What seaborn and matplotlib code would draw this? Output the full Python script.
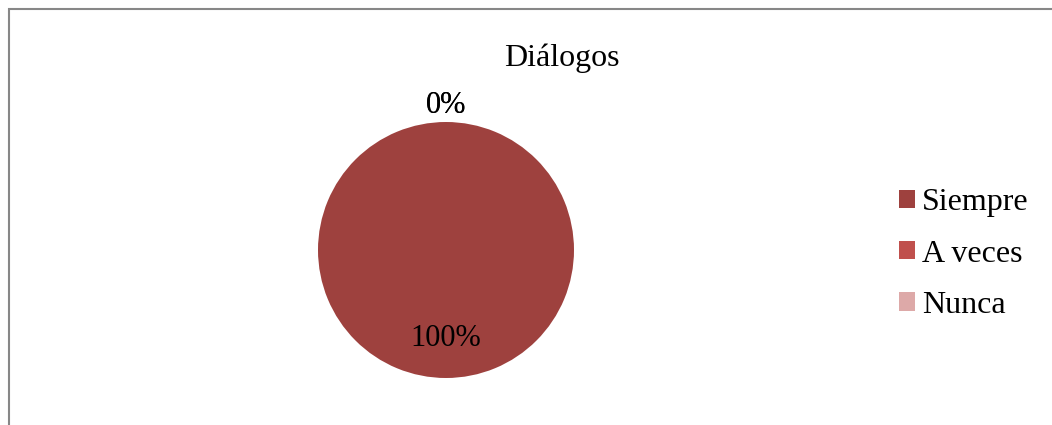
import matplotlib
matplotlib.use("Agg")
import numpy as np
import seaborn as sns
import matplotlib.pyplot as plt
from matplotlib.patches import Rectangle, Patch

# Datos del gráfico
categorias = ["Siempre", "A veces", "Nunca"]
valores = [100, 0, 0]
colores = ["#9E413E", "#C0504D", "#DDA9A8"]
titulo = "Diálogos"

sns.set_style("white")
plt.rcParams["font.family"] = ["Liberation Serif", "DejaVu Serif"]
plt.rcParams["text.color"] = "black"

W, H = 1052, 425
fig = plt.figure(figsize=(W / 100, H / 100), dpi=100)

# marco gris del gráfico
fig.patches.append(Rectangle((9 / W, -0.1), 1.2, (H - 9) / H + 0.1,
                             transform=fig.transFigure, fill=False,
                             edgecolor="#878787", linewidth=1.5))

cx, cy, r = 446, 250, 128
ax = fig.add_axes([(cx - r) / W, (H - cy - r) / H, 2 * r / W, 2 * r / H])
wedges, _ = ax.pie(valores, colors=colores, startangle=90, counterclock=False,
                   wedgeprops=dict(linewidth=0))
ax.set_xlim(-1, 1)
ax.set_ylim(-1, 1)
ax.set_aspect("auto")
ax.axis("off")

# etiquetas de porcentaje
total = sum(valores)
for w, v in zip(wedges, valores):
    ang = np.deg2rad((w.theta1 + w.theta2) / 2)
    d = 0.69 if v > 0 else 1.13
    ax.text(d * np.cos(ang), d * np.sin(ang), f"{v / total * 100:.0f}%",
            ha="center", va="center", fontsize=22, color="black")

fig.text(562 / W, 1 - 58 / H, titulo, ha="center", va="center", fontsize=23,
         color="black")

handles = [Patch(facecolor=c, edgecolor="none") for c in colores]
leg = fig.legend(handles, categorias, loc="center left",
                 bbox_to_anchor=(870 / W, 1 - 254 / H), frameon=False,
                 fontsize=23, handlelength=0.5, handleheight=0.5,
                 handletextpad=0.22, labelspacing=0.7)
for t in leg.get_texts():
    t.set_color("black")

fig.savefig("out.png", dpi=100)
